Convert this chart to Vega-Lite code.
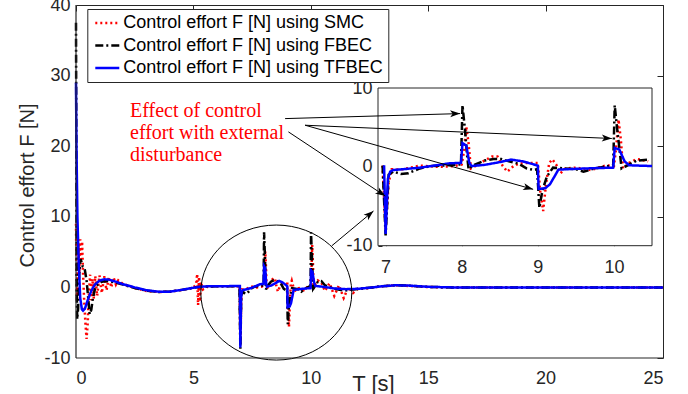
{
"$schema": "https://vega.github.io/schema/vega-lite/v6.json",
"width": 587, "height": 353,
"autosize": {"type": "none"},
"padding": {"left": 76, "top": 5, "right": 25, "bottom": 36},
"background": "white",
"config": {
  "view": {"stroke": null},
  "font": "Liberation Sans",
  "axis": {"labelFont": "Liberation Sans", "labelFontSize": 18, "labelColor": "#262626", "tickColor": "#262626", "domainColor": "#262626", "titleFont": "Liberation Sans", "titleFontSize": 20, "titleColor": "#262626", "titleFontWeight": "normal", "grid": false}
},
"datasets": {
 "curves": [
  {"s":"SMC","t":0,"F":9},{"s":"SMC","t":0.02,"F":2},{"s":"SMC","t":0.04,"F":-2},{"s":"SMC","t":0.07,"F":3},{"s":"SMC","t":0.1,"F":6},{"s":"SMC","t":0.14,"F":2},{"s":"SMC","t":0.18,"F":6.8},{"s":"SMC","t":0.22,"F":4},{"s":"SMC","t":0.26,"F":6.5},{"s":"SMC","t":0.3,"F":2},{"s":"SMC","t":0.35,"F":-2},{"s":"SMC","t":0.4,"F":-5},{"s":"SMC","t":0.45,"F":-7.3},{"s":"SMC","t":0.5,"F":-5},{"s":"SMC","t":0.55,"F":-1},{"s":"SMC","t":0.6,"F":1.8},{"s":"SMC","t":0.65,"F":-1.8},{"s":"SMC","t":0.7,"F":1.2},{"s":"SMC","t":0.76,"F":-1.6},{"s":"SMC","t":0.82,"F":1.6},{"s":"SMC","t":0.9,"F":-1.2},{"s":"SMC","t":1.0,"F":1.7},{"s":"SMC","t":1.1,"F":-0.8},{"s":"SMC","t":1.2,"F":1.6},{"s":"SMC","t":1.3,"F":-0.4},{"s":"SMC","t":1.4,"F":1.5},{"s":"SMC","t":1.5,"F":0},{"s":"SMC","t":1.6,"F":1.4},{"s":"SMC","t":1.7,"F":0.4},{"s":"SMC","t":1.8,"F":1.0},{"s":"SMC","t":2.0,"F":0.5},{"s":"SMC","t":2.5,"F":-0.1},{"s":"SMC","t":3.0,"F":-0.5},{"s":"SMC","t":3.5,"F":-0.65},{"s":"SMC","t":4.0,"F":-0.6},{"s":"SMC","t":4.5,"F":-0.35},{"s":"SMC","t":5.0,"F":-0.05},{"s":"SMC","t":5.12,"F":0.5},{"s":"SMC","t":5.16,"F":1.9},{"s":"SMC","t":5.2,"F":-2.5},{"s":"SMC","t":5.24,"F":1.5},{"s":"SMC","t":5.28,"F":-2.0},{"s":"SMC","t":5.32,"F":0.8},{"s":"SMC","t":5.4,"F":-0.3},{"s":"SMC","t":5.6,"F":0.1},{"s":"SMC","t":6.0,"F":0.15},{"s":"SMC","t":6.5,"F":0.15},{"s":"SMC","t":6.96,"F":0.15},{"s":"SMC","t":7.0,"F":-8.0},{"s":"SMC","t":7.04,"F":-2},{"s":"SMC","t":7.08,"F":-0.3},{"s":"SMC","t":7.2,"F":-0.35},{"s":"SMC","t":7.45,"F":0.15},{"s":"SMC","t":7.7,"F":0.0},{"s":"SMC","t":7.9,"F":0.1},{"s":"SMC","t":8.0,"F":0.3},{"s":"SMC","t":8.03,"F":2},{"s":"SMC","t":8.06,"F":5.1},{"s":"SMC","t":8.09,"F":3.0},{"s":"SMC","t":8.12,"F":-0.2},{"s":"SMC","t":8.2,"F":0.2},{"s":"SMC","t":8.3,"F":0.8},{"s":"SMC","t":8.4,"F":1.3},{"s":"SMC","t":8.47,"F":1.3},{"s":"SMC","t":8.54,"F":0.1},{"s":"SMC","t":8.6,"F":-0.6},{"s":"SMC","t":8.68,"F":0.1},{"s":"SMC","t":8.75,"F":0.4},{"s":"SMC","t":8.85,"F":0.5},{"s":"SMC","t":9.0,"F":0.5},{"s":"SMC","t":9.03,"F":-3},{"s":"SMC","t":9.07,"F":-5.6},{"s":"SMC","t":9.11,"F":-2},{"s":"SMC","t":9.15,"F":0.5},{"s":"SMC","t":9.19,"F":0.95},{"s":"SMC","t":9.24,"F":0.3},{"s":"SMC","t":9.3,"F":-0.8},{"s":"SMC","t":9.36,"F":-0.2},{"s":"SMC","t":9.5,"F":-0.1},{"s":"SMC","t":9.7,"F":-0.4},{"s":"SMC","t":9.9,"F":0.2},{"s":"SMC","t":10.0,"F":0.1},{"s":"SMC","t":10.03,"F":2.5},{"s":"SMC","t":10.06,"F":6.0},{"s":"SMC","t":10.09,"F":3.5},{"s":"SMC","t":10.12,"F":-0.2},{"s":"SMC","t":10.2,"F":0.5},{"s":"SMC","t":10.3,"F":1.0},{"s":"SMC","t":10.45,"F":0.7},{"s":"SMC","t":10.6,"F":-0.5},{"s":"SMC","t":10.8,"F":0.6},{"s":"SMC","t":11.0,"F":-1.2},{"s":"SMC","t":11.2,"F":0.3},{"s":"SMC","t":11.4,"F":-1.5},{"s":"SMC","t":11.6,"F":0},{"s":"SMC","t":11.8,"F":-0.8},{"s":"SMC","t":12.0,"F":-0.2},{"s":"SMC","t":12.5,"F":-0.1},{"s":"SMC","t":13.0,"F":0.15},{"s":"SMC","t":13.6,"F":0.3},{"s":"SMC","t":14.2,"F":0.2},{"s":"SMC","t":15.0,"F":0.05},{"s":"SMC","t":16.0,"F":0},{"s":"SMC","t":20.0,"F":0},{"s":"SMC","t":25.0,"F":0},
  {"s":"FBEC","t":0,"F":37.5},{"s":"FBEC","t":0.015,"F":20},{"s":"FBEC","t":0.03,"F":0},{"s":"FBEC","t":0.05,"F":-4.5},{"s":"FBEC","t":0.09,"F":-3},{"s":"FBEC","t":0.14,"F":2},{"s":"FBEC","t":0.2,"F":4.0},{"s":"FBEC","t":0.28,"F":3.0},{"s":"FBEC","t":0.36,"F":2.8},{"s":"FBEC","t":0.45,"F":1},{"s":"FBEC","t":0.52,"F":-1.5},{"s":"FBEC","t":0.58,"F":-3.8},{"s":"FBEC","t":0.65,"F":-3.2},{"s":"FBEC","t":0.72,"F":-1.5},{"s":"FBEC","t":0.82,"F":0},{"s":"FBEC","t":0.95,"F":0.5},{"s":"FBEC","t":1.1,"F":0.8},{"s":"FBEC","t":1.3,"F":0.9},{"s":"FBEC","t":1.6,"F":0.75},{"s":"FBEC","t":2.0,"F":0.4},{"s":"FBEC","t":2.5,"F":-0.1},{"s":"FBEC","t":3.0,"F":-0.45},{"s":"FBEC","t":3.5,"F":-0.65},{"s":"FBEC","t":4.0,"F":-0.6},{"s":"FBEC","t":4.5,"F":-0.35},{"s":"FBEC","t":5.0,"F":-0.05},{"s":"FBEC","t":5.3,"F":0.1},{"s":"FBEC","t":6.0,"F":0.15},{"s":"FBEC","t":6.96,"F":0.15},{"s":"FBEC","t":7.0,"F":-8.7},{"s":"FBEC","t":7.04,"F":-1.0},{"s":"FBEC","t":7.1,"F":-0.6},{"s":"FBEC","t":7.2,"F":-0.9},{"s":"FBEC","t":7.3,"F":-0.8},{"s":"FBEC","t":7.45,"F":-0.2},{"s":"FBEC","t":7.6,"F":0.1},{"s":"FBEC","t":7.8,"F":0.2},{"s":"FBEC","t":7.99,"F":0.3},{"s":"FBEC","t":8.01,"F":7.8},{"s":"FBEC","t":8.04,"F":5.0},{"s":"FBEC","t":8.07,"F":1.5},{"s":"FBEC","t":8.09,"F":-0.3},{"s":"FBEC","t":8.15,"F":0.2},{"s":"FBEC","t":8.3,"F":0.8},{"s":"FBEC","t":8.42,"F":1.0},{"s":"FBEC","t":8.52,"F":1.0},{"s":"FBEC","t":8.62,"F":0.7},{"s":"FBEC","t":8.75,"F":0.4},{"s":"FBEC","t":8.85,"F":-0.2},{"s":"FBEC","t":8.95,"F":-0.4},{"s":"FBEC","t":8.99,"F":-0.3},{"s":"FBEC","t":9.02,"F":-5.2},{"s":"FBEC","t":9.06,"F":-3.0},{"s":"FBEC","t":9.12,"F":-1.2},{"s":"FBEC","t":9.2,"F":-0.1},{"s":"FBEC","t":9.35,"F":-0.2},{"s":"FBEC","t":9.5,"F":-0.3},{"s":"FBEC","t":9.6,"F":-0.6},{"s":"FBEC","t":9.75,"F":-0.2},{"s":"FBEC","t":9.99,"F":0.2},{"s":"FBEC","t":10.01,"F":7.8},{"s":"FBEC","t":10.04,"F":5.0},{"s":"FBEC","t":10.07,"F":2.5},{"s":"FBEC","t":10.1,"F":-0.2},{"s":"FBEC","t":10.18,"F":0.2},{"s":"FBEC","t":10.3,"F":0.8},{"s":"FBEC","t":10.45,"F":0.9},{"s":"FBEC","t":10.6,"F":0.3},{"s":"FBEC","t":11.0,"F":-0.2},{"s":"FBEC","t":11.4,"F":-0.45},{"s":"FBEC","t":11.8,"F":-0.3},{"s":"FBEC","t":12.5,"F":-0.05},{"s":"FBEC","t":13.0,"F":0.15},{"s":"FBEC","t":13.6,"F":0.3},{"s":"FBEC","t":14.2,"F":0.25},{"s":"FBEC","t":15.0,"F":0.08},{"s":"FBEC","t":16.0,"F":0},{"s":"FBEC","t":20.0,"F":0},{"s":"FBEC","t":25.0,"F":0},
  {"s":"TFBEC","t":0,"F":29},{"s":"TFBEC","t":0.02,"F":20},{"s":"TFBEC","t":0.06,"F":10},{"s":"TFBEC","t":0.12,"F":3},{"s":"TFBEC","t":0.18,"F":-1.5},{"s":"TFBEC","t":0.25,"F":-3.1},{"s":"TFBEC","t":0.3,"F":-3.3},{"s":"TFBEC","t":0.38,"F":-3.0},{"s":"TFBEC","t":0.5,"F":-1.8},{"s":"TFBEC","t":0.65,"F":-0.5},{"s":"TFBEC","t":0.8,"F":0.4},{"s":"TFBEC","t":1.0,"F":0.95},{"s":"TFBEC","t":1.2,"F":1.15},{"s":"TFBEC","t":1.4,"F":1.1},{"s":"TFBEC","t":1.7,"F":0.8},{"s":"TFBEC","t":2.0,"F":0.45},{"s":"TFBEC","t":2.5,"F":0},{"s":"TFBEC","t":3.0,"F":-0.4},{"s":"TFBEC","t":3.5,"F":-0.6},{"s":"TFBEC","t":4.0,"F":-0.6},{"s":"TFBEC","t":4.5,"F":-0.35},{"s":"TFBEC","t":5.0,"F":-0.05},{"s":"TFBEC","t":5.3,"F":0.1},{"s":"TFBEC","t":5.6,"F":0.15},{"s":"TFBEC","t":6.0,"F":0.15},{"s":"TFBEC","t":6.5,"F":0.18},{"s":"TFBEC","t":6.98,"F":0.2},{"s":"TFBEC","t":7.0,"F":-8.5},{"s":"TFBEC","t":7.03,"F":-1.5},{"s":"TFBEC","t":7.06,"F":-0.6},{"s":"TFBEC","t":7.1,"F":-0.4},{"s":"TFBEC","t":7.23,"F":-0.3},{"s":"TFBEC","t":7.45,"F":-0.1},{"s":"TFBEC","t":7.67,"F":0.2},{"s":"TFBEC","t":7.84,"F":0.45},{"s":"TFBEC","t":7.99,"F":0.5},{"s":"TFBEC","t":8.01,"F":3.0},{"s":"TFBEC","t":8.06,"F":2.7},{"s":"TFBEC","t":8.1,"F":0.5},{"s":"TFBEC","t":8.13,"F":0.1},{"s":"TFBEC","t":8.3,"F":0.25},{"s":"TFBEC","t":8.5,"F":0.6},{"s":"TFBEC","t":8.65,"F":0.92},{"s":"TFBEC","t":8.8,"F":0.7},{"s":"TFBEC","t":8.95,"F":0.3},{"s":"TFBEC","t":9.0,"F":0.15},{"s":"TFBEC","t":9.01,"F":-2.8},{"s":"TFBEC","t":9.1,"F":-2.7},{"s":"TFBEC","t":9.16,"F":-2.2},{"s":"TFBEC","t":9.22,"F":-1.2},{"s":"TFBEC","t":9.27,"F":-0.35},{"s":"TFBEC","t":9.5,"F":-0.25},{"s":"TFBEC","t":9.8,"F":-0.15},{"s":"TFBEC","t":9.99,"F":-0.1},{"s":"TFBEC","t":10.01,"F":2.4},{"s":"TFBEC","t":10.07,"F":2.2},{"s":"TFBEC","t":10.14,"F":0.7},{"s":"TFBEC","t":10.2,"F":0.2},{"s":"TFBEC","t":10.5,"F":0.1},{"s":"TFBEC","t":10.7,"F":0.0},{"s":"TFBEC","t":11.0,"F":-0.15},{"s":"TFBEC","t":11.5,"F":-0.25},{"s":"TFBEC","t":12.0,"F":-0.2},{"s":"TFBEC","t":12.5,"F":-0.05},{"s":"TFBEC","t":13.0,"F":0.15},{"s":"TFBEC","t":13.6,"F":0.3},{"s":"TFBEC","t":14.2,"F":0.25},{"s":"TFBEC","t":15.0,"F":0.08},{"s":"TFBEC","t":16.0,"F":0},{"s":"TFBEC","t":20.0,"F":0},{"s":"TFBEC","t":25.0,"F":0}
 ]
},
"layer": [
 {
  "data": {"name": "curves"},
  "mark": {"type": "line", "strokeWidth": 2.5},
  "encoding": {
   "x": {"field": "t", "type": "quantitative", "scale": {"domain": [0, 25], "nice": false, "zero": false},
         "axis": {"orient": "bottom", "values": [0,5,10,15,20,25], "title": "T [s]", "titleX": 297, "titleY": 32, "titleAlign": "center", "titleBaseline": "alphabetic", "titleFontSize": 22, "labelPadding": 11, "ticks": false, "domain": false}},
   "y": {"field": "F", "type": "quantitative", "scale": {"domain": [-10, 40], "nice": false, "zero": false},
         "axis": {"orient": "left", "values": [-10,0,10,20,30,40], "labelExpr": "datum.value + ''", "title": "Control effort F [N]", "titleX": -43, "titleY": 180, "titleAngle": 270, "titleAlign": "center", "titleBaseline": "alphabetic", "labelPadding": 6, "ticks": false, "domain": false}},
   "color": {"field": "s", "type": "nominal", "scale": {"domain": ["SMC","FBEC","TFBEC"], "range": ["#ff0000","#000000","#0000ff"]},
     "legend": {"title": null, "orient": "none", "legendX": 11.3, "legendY": 4, "labelExpr": "'Control effort F [N] using ' + datum.label", "labelFontSize": 18, "labelFont": "Liberation Sans", "labelColor": "#000000", "symbolType": "M-1,0L3,0", "symbolSize": 144, "symbolStrokeWidth": 2.5, "labelOffset": 13, "rowPadding": 4.5, "padding": 5, "strokeColor": "#262626", "fillColor": "white", "labelLimit": 400}},
   "strokeDash": {"field": "s", "type": "nominal", "scale": {"domain": ["SMC","FBEC","TFBEC"], "range": [[2,3],[8,3,2,3],[1,0]]},
     "legend": {"title": null, "orient": "none", "legendX": 11.3, "legendY": 4, "labelExpr": "'Control effort F [N] using ' + datum.label", "labelFontSize": 18, "labelFont": "Liberation Sans", "labelColor": "#000000", "symbolType": "M-1,0L3,0", "symbolSize": 144, "symbolStrokeWidth": 2.5, "labelOffset": 13, "rowPadding": 4.5, "padding": 5, "strokeColor": "#262626", "fillColor": "white", "labelLimit": 400}}
  }
 },
 {
  "data": {"values": [{"x1": 6.9, "x2": 10.5, "y1": -10, "y2": 10}]},
  "mark": {"type": "rect", "fill": "white", "stroke": "#262626", "strokeWidth": 1},
  "encoding": {
   "x": {"field": "x1", "type": "quantitative", "scale": {"domain": [6.9, 10.5], "range": [302, 576], "nice": false, "zero": false},
         "axis": {"orient": "bottom", "offset": -112.3, "values": [7,8,9,10], "tickSize": -4, "labelPadding": 17, "domain": false, "title": null}},
   "x2": {"field": "x2"},
   "y": {"field": "y1", "type": "quantitative", "scale": {"domain": [-10, 10], "range": [240.7, 83], "nice": false, "zero": false},
         "axis": {"orient": "left", "offset": -302, "values": [-10,0,10], "labelExpr": "datum.value + ''", "tickSize": -4, "labelPadding": 10, "domain": false, "title": null}},
   "y2": {"field": "y2"}
  }
 },
 {
  "data": {"name": "curves"},
  "transform": [{"filter": "datum.t >= 6.9 && datum.t <= 10.5"}],
  "mark": {"type": "line", "strokeWidth": 2.5},
  "encoding": {
   "x": {"field": "t", "type": "quantitative", "scale": {"domain": [6.9, 10.5], "range": [302, 576], "nice": false, "zero": false}, "axis": null},
   "y": {"field": "F", "type": "quantitative", "scale": {"domain": [-10, 10], "range": [240.7, 83], "nice": false, "zero": false}, "axis": null},
   "color": {"field": "s", "type": "nominal", "scale": {"domain": ["SMC","FBEC","TFBEC"], "range": ["#ff0000","#000000","#0000ff"]}},
   "strokeDash": {"field": "s", "type": "nominal", "scale": {"domain": ["SMC","FBEC","TFBEC"], "range": [[2,3],[8,3,2,3],[1,0]]}}
  }
 },
 {
  "data": {"values": [
    {"x1": 8.905, "y1": 23.91, "x2": 16.36, "y2": 24.62},
    {"x1": 9.757, "y1": 22.97, "x2": 22.82, "y2": 21.09},
    {"x1": 9.757, "y1": 22.97, "x2": 19.47, "y2": 13.89},
    {"x1": 9.046, "y1": 22.03, "x2": 13.17, "y2": 12.94},
    {"x1": 10.89, "y1": 5.88, "x2": 12.67, "y2": 10.82}
  ]},
  "mark": {"type": "rule", "color": "#000000", "strokeWidth": 1},
  "encoding": {
   "x": {"field": "x1", "type": "quantitative", "scale": {"domain": [0, 25], "nice": false, "zero": false},
         "axis": {"orient": "top", "values": [0,5,10,15,20,25], "labels": false, "tickSize": -6, "title": null, "domain": true, "ticks": true}},
   "y": {"field": "y1", "type": "quantitative", "scale": {"domain": [-10, 40], "nice": false, "zero": false},
         "axis": {"orient": "right", "values": [-10,0,10,20,30,40], "labels": false, "tickSize": -6, "title": null, "domain": true, "ticks": true}},
   "x2": {"field": "x2"},
   "y2": {"field": "y2"}
  }
 },
 {
  "data": {"values": [{"x": 16.36, "y": 24.62}]},
  "mark": {"type": "point", "shape": "M0,0L-2,-0.7L-1.5,0L-2,0.7Z", "size": 100, "angle": -1.6, "filled": true, "color": "#000000", "opacity": 1},
  "encoding": {"x": {"field": "x", "type": "quantitative", "scale": {"domain": [0, 25], "nice": false, "zero": false}, "axis": null}, "y": {"field": "y", "type": "quantitative", "scale": {"domain": [-10, 40], "nice": false, "zero": false}, "axis": null}}
 },
 {
  "data": {"values": [{"x": 22.82, "y": 21.09}]},
  "mark": {"type": "point", "shape": "M0,0L-2,-0.7L-1.5,0L-2,0.7Z", "size": 100, "angle": 2.5, "filled": true, "color": "#000000", "opacity": 1},
  "encoding": {"x": {"field": "x", "type": "quantitative", "scale": {"domain": [0, 25], "nice": false, "zero": false}, "axis": null}, "y": {"field": "y", "type": "quantitative", "scale": {"domain": [-10, 40], "nice": false, "zero": false}, "axis": null}}
 },
 {
  "data": {"values": [{"x": 19.47, "y": 13.89}]},
  "mark": {"type": "point", "shape": "M0,0L-2,-0.7L-1.5,0L-2,0.7Z", "size": 100, "angle": 15.7, "filled": true, "color": "#000000", "opacity": 1},
  "encoding": {"x": {"field": "x", "type": "quantitative", "scale": {"domain": [0, 25], "nice": false, "zero": false}, "axis": null}, "y": {"field": "y", "type": "quantitative", "scale": {"domain": [-10, 40], "nice": false, "zero": false}, "axis": null}}
 },
 {
  "data": {"values": [{"x": 13.17, "y": 12.94}]},
  "mark": {"type": "point", "shape": "M0,0L-2,-0.7L-1.5,0L-2,0.7Z", "size": 100, "angle": 33.7, "filled": true, "color": "#000000", "opacity": 1},
  "encoding": {"x": {"field": "x", "type": "quantitative", "scale": {"domain": [0, 25], "nice": false, "zero": false}, "axis": null}, "y": {"field": "y", "type": "quantitative", "scale": {"domain": [-10, 40], "nice": false, "zero": false}, "axis": null}}
 },
 {
  "data": {"values": [{"x": 12.67, "y": 10.82}]},
  "mark": {"type": "point", "shape": "M0,0L-2,-0.7L-1.5,0L-2,0.7Z", "size": 100, "angle": -40.1, "filled": true, "color": "#000000", "opacity": 1},
  "encoding": {"x": {"field": "x", "type": "quantitative", "scale": {"domain": [0, 25], "nice": false, "zero": false}, "axis": null}, "y": {"field": "y", "type": "quantitative", "scale": {"domain": [-10, 40], "nice": false, "zero": false}, "axis": null}}
 },
 {
  "data": {"values": [{"x": 8.53, "y": -0.73}]},
  "mark": {"type": "point", "shape": "M-1,0A1,0.894,0,1,1,1,0A1,0.894,0,1,1,-1,0Z", "size": 22801, "filled": false, "stroke": "#000000", "strokeWidth": 1, "opacity": 1},
  "encoding": {"x": {"field": "x", "type": "quantitative", "scale": {"domain": [0, 25], "nice": false, "zero": false}, "axis": null}, "y": {"field": "y", "type": "quantitative", "scale": {"domain": [-10, 40], "nice": false, "zero": false}, "axis": null}}
 },
 {
  "data": {"values": [{"x": 2.3, "y": 24.1, "label": "Effect of control\neffort with external\ndisturbance"}]},
  "mark": {"type": "text", "font": "Liberation Serif", "fontSize": 20, "color": "#ff0000", "align": "left", "baseline": "alphabetic", "lineBreak": "\n", "lineHeight": 22},
  "encoding": {"x": {"field": "x", "type": "quantitative", "scale": {"domain": [0, 25], "nice": false, "zero": false}, "axis": null}, "y": {"field": "y", "type": "quantitative", "scale": {"domain": [-10, 40], "nice": false, "zero": false}, "axis": null}, "text": {"field": "label"}}
 },
 {
  "data": {"values": [
    {"a": 0, "a2": 25, "b": -10, "b2": -10},
    {"a": 0, "a2": 0, "b": -10, "b2": 40}
  ]},
  "mark": {"type": "rule", "color": "#262626", "strokeWidth": 1.2},
  "encoding": {
   "x": {"field": "a", "type": "quantitative", "scale": {"domain": [0, 25], "nice": false, "zero": false}, "axis": null},
   "x2": {"field": "a2"},
   "y": {"field": "b", "type": "quantitative", "scale": {"domain": [-10, 40], "nice": false, "zero": false}, "axis": null},
   "y2": {"field": "b2"}
  }
 }
],
"resolve": {"scale": {"x": "independent", "y": "independent"}}
}
